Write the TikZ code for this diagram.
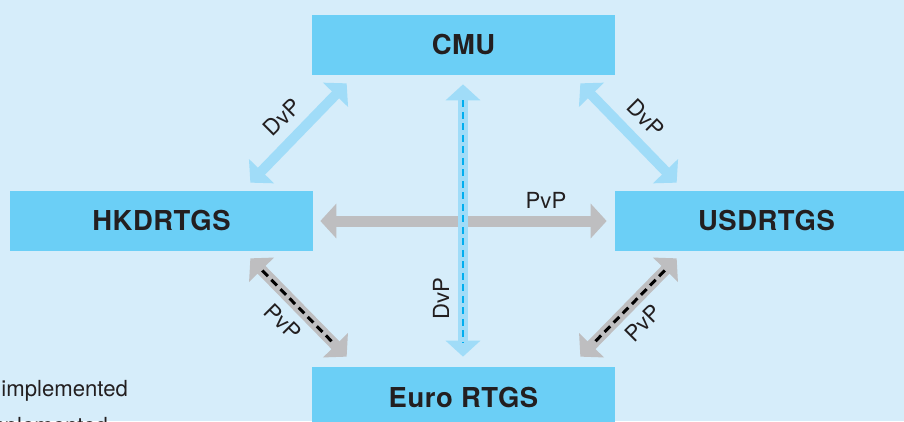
\documentclass[tikz,border=0pt]{standalone}
\usepackage{fontspec}
\setmainfont{TeX Gyre Heros}
\usepackage{xcolor}
\definecolor{mybg}{RGB}{214,237,250}
\definecolor{mybox}{RGB}{107,207,246}
\definecolor{mylight}{RGB}{160,220,248}
\definecolor{mygrey}{RGB}{190,190,192}
\definecolor{mydash}{RGB}{0,174,239}
\definecolor{myink}{RGB}{35,31,32}
\usepackage{tikz}
\usetikzlibrary{arrows.meta}
\usetikzlibrary{calc}

\begin{document}
\begin{tikzpicture}[line cap=butt]
	\tikzstyle{sys}=[fill=mybox,minimum width=6.06cm,minimum height=1.2cm,inner sep=0pt,text=myink,font=\fontsize{15.6}{18}\selectfont\bfseries\addfontfeatures{LetterSpace=2}];
	\tikzstyle{lab}=[text=myink,font=\fontsize{12.6}{15}\selectfont,inner sep=0pt];
	\tikzstyle{dvp}=[mylight,line width=0.2cm,{Triangle[length=0.32cm,width=0.68cm]}-{Triangle[length=0.32cm,width=0.68cm]}];
	\tikzstyle{pvp}=[mygrey,line width=0.22cm,{Triangle[length=0.32cm,width=0.68cm]}-{Triangle[length=0.32cm,width=0.68cm]}];
	\tikzstyle{blu}=[mydash,line width=0.055cm,dash pattern=on 0.14cm off 0.09cm];
	\tikzstyle{blk}=[black,line width=0.06cm,dash pattern=on 0.16cm off 0.1cm];
	%%
	\useasboundingbox (0,0) rectangle (18.08,8.42);
	\clip (0,0) rectangle (18.08,8.42);
	\fill[mybg] (0,0) rectangle (18.08,8.42);
	%% Systems
	\node[sys] (cmu)  at (9.27,7.52) {CMU};
	\node[sys] (hk)   at (3.23,4.00) {HKDRTGS};
	\node[sys] (us)   at (15.33,4.00) {USDRTGS};
	\node[sys] (euro) at (9.27,0.48) {Euro RTGS};
	%%
	\coordinate (dvpL1) at ($(hk.north east)+(-1.26,0.16)$);
	\coordinate (dvpL2) at ($(cmu.south west)+(0.70,-0.16)$);
	\coordinate (dvpR1) at ($(cmu.south east)+(-0.70,-0.16)$);
	\coordinate (dvpR2) at ($(us.north west)+(1.24,0.16)$);
	\coordinate (dvpV1) at ($(cmu.south)+(-0.01,-0.18)$);
	\coordinate (dvpV2) at ($(euro.north)+(-0.01,0.20)$);
	\coordinate (pvpH1) at ($(hk.east)+(0.14,0)$);
	\coordinate (pvpH2) at ($(us.west)+(-0.16,0)$);
	\coordinate (pvpL1) at ($(hk.south east)+(-1.26,-0.14)$);
	\coordinate (pvpL2) at ($(euro.north west)+(0.70,0.20)$);
	\coordinate (pvpR1) at ($(us.south west)+(1.24,-0.14)$);
	\coordinate (pvpR2) at ($(euro.north east)+(-0.70,0.20)$);
	%% Links
	\draw[dvp] (dvpL1) -- (dvpL2);
	\draw[dvp] (dvpR1) -- (dvpR2);
	\draw[pvp] (pvpH1) -- (pvpH2);
	\draw[dvp] (dvpV1) -- (dvpV2);
	\draw[blu] ($(dvpV1)!0.32cm!(dvpV2)$) -- ($(dvpV2)!0.28cm!(dvpV1)$);
	\draw[pvp] (pvpL1) -- (pvpL2);
	\draw[blk] ($(pvpL1)!0.34cm!(pvpL2)$) -- ($(pvpL2)!0.36cm!(pvpL1)$);
	\draw[pvp] (pvpR1) -- (pvpR2);
	\draw[blk] ($(pvpR1)!0.34cm!(pvpR2)$) -- ($(pvpR2)!0.36cm!(pvpR1)$);
	%% Labels
	\node[lab,rotate=45]  (dvpLt) at (5.64,6.08) {DvP};
	\node[lab,rotate=-45] (dvpRt) at (12.92,6.06) {DvP};
	\node[lab,rotate=90]  (dvpVt) at (8.82,2.44) {DvP};
	\node[lab]            (pvpHt) at (10.92,4.42) {PvP};
	\node[lab,rotate=-45] (pvpLt) at (5.66,1.98) {PvP};
	\node[lab,rotate=45]  (pvpRt) at (12.86,1.96) {PvP};
	%% Legend (cut off)
	\node[lab,anchor=base west] (impA) at (0.02,0.50) {implemented};
	\node[lab,anchor=base west] (impB) at (-0.38,-0.24) {implemented};
\end{tikzpicture}
\end{document}
